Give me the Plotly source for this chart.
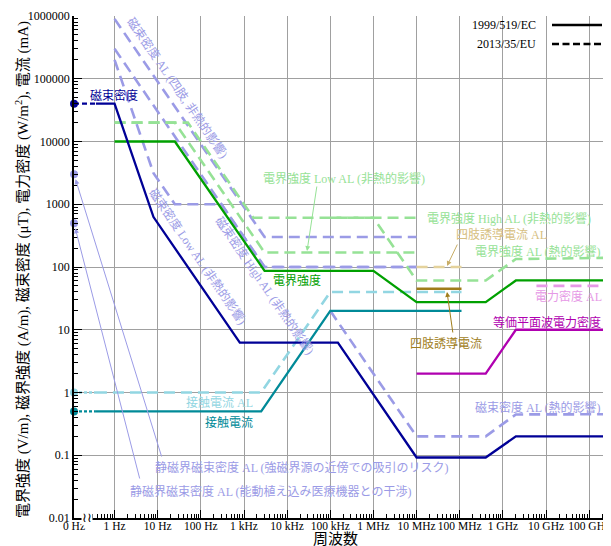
import plotly.graph_objects as go

# ---------------- data (frequency in Hz) ----------------
F0 = 10 ** -0.94          # axis position used for "0 Hz" (static field)

# 1999/519/EC (solid)
b99_static_f = [F0, 0.37]
b99_static = [40000, 40000]
b99_f = [0.37, 1, 8, 800, 150e3, 10e6, 400e6, 2e9, 3e11]
b99 = [40000, 40000, 625, 6.25, 6.25, 0.092, 0.092, 0.2, 0.2]
e99_f = [1, 25, 3000, 1e6, 10e6, 400e6, 2e9, 3e11]
e99 = [10000, 10000, 87, 87, 27.5, 27.5, 61, 61]
s99_f = [10e6, 400e6, 2e9, 3e11]
s99 = [2, 2, 10, 10]
ic99_static_f = [F0, 0.37]
ic99_static = [0.5, 0.5]
ic99_f = [0.37, 2500, 100e3, 110e6]
ic99 = [0.5, 0.5, 20, 20]
il99_f = [10e6, 110e6]
il99 = [45, 45]

# 2013/35/EU (dashed)
b_low_f = [1, 8, 25, 300, 3000, 10e6]
b_low = [2e5, 3125, 1000, 1000, 100, 100]
b_high_f = [1, 3000, 10e6]
b_high = [3e5, 100, 100]
b_limb_f = [1, 3000, 10e6]
b_limb = [9e5, 300, 300]
b_th_f = [100e3, 10e6, 400e6, 2e9, 3e11]
b_th = [20, 0.2, 0.2, 0.447, 0.45]
e_low_f = [1, 25, 3000, 10e6]
e_low = [2e4, 2e4, 170, 170]
e_high_f = [1, 50, 1640, 10e6]
e_high = [2e4, 2e4, 610, 610]
e_th_f = [100e3, 1e6, 10e6, 400e6, 2e9, 3e11]
e_th = [610, 610, 61, 61, 134, 140]
s_al_f = [6e9, 3e11]
s_al = [50, 50]
ic_al_static_f = [F0, 0.37]
ic_al_static = [1, 1]
ic_al_f = [0.37, 2500, 100e3, 110e6]
ic_al = [1, 1, 40, 40]
il_al_f = [10e6, 110e6]
il_al = [100, 100]
static_al = [3000, 500]

x_tickvals = [F0, 1, 10, 100, 1e3, 1e4, 1e5, 1e6, 1e7, 1e8, 1e9, 1e10, 1e11]
x_ticktext = ["0 Hz", "1 Hz", "10 Hz", "100 Hz", "1 kHz", "10 kHz", "100 kHz",
              "1 MHz", "10 MHz", "100 MHz", "1 GHz", "10 GHz", "100 GHz"]
y_tickvals = [0.01, 0.1, 1, 10, 100, 1000, 10000, 100000, 1000000]
y_ticktext = ["0.01", "0.1", "1", "10", "100", "1000", "10000", "100000", "1000000"]

# ---------------- colours ----------------
NAVY = "#000096"
LAV = "#9b9be6"
GREEN = "#00a000"
LGREEN = "#96e296"
TEAL = "#008a98"
LBLUE = "#92d6e2"
GOLD = "#a07d1a"
LGOLD = "#e4d29c"
MAG = "#b000b0"
LMAG = "#e699e6"

DASH = "11px,6px"
FONT = "Liberation Serif, Noto Sans CJK JP, serif"

fig = go.Figure()


def line(fx, fy, color, dash="solid", width=2.3):
    fig.add_trace(go.Scatter(x=fx, y=fy, mode="lines",
                             line=dict(color=color, width=width, dash=dash),
                             showlegend=False, hoverinfo="skip"))


# 2013 action levels (dashed, light colours)
line(b_limb_f, b_limb, LAV, DASH, 2.6)
line(b_high_f, b_high, LAV, DASH, 2.6)
line(b_low_f, b_low, LAV, DASH, 2.6)
line(b_th_f, b_th, LAV, DASH, 2.6)
line(e_high_f, e_high, LGREEN, DASH, 2.6)
line(e_low_f, e_low, LGREEN, DASH, 2.6)
line(e_th_f, e_th, LGREEN, DASH, 2.6)
line(s_al_f, s_al, LMAG, DASH, 2.6)
line(ic_al_static_f, ic_al_static, LBLUE, "3px,2px", 2.6)
line(ic_al_f, ic_al, LBLUE, DASH, 2.6)
line(il_al_f, il_al, LGOLD, DASH, 2.6)

# 1999 reference levels (solid)
line(e99_f, e99, GREEN)
line(b99_static_f, b99_static, NAVY, "5px,3px")
line(b99_f, b99, NAVY)
line(s99_f, s99, MAG)
line(ic99_static_f, ic99_static, TEAL, "3px,2px")
line(ic99_f, ic99, TEAL)
line(il99_f, il99, GOLD)

# static-field dots at 0 Hz
for val, col in [(b99_static[0], NAVY), (static_al[0], LAV), (static_al[1], LAV),
                 (ic_al_static[0], LBLUE), (ic99_static[0], TEAL)]:
    fig.add_trace(go.Scatter(x=[F0], y=[val], mode="markers",
                             marker=dict(color=col, size=8), cliponaxis=False,
                             showlegend=False, hoverinfo="skip"))

# ---------------- annotations (positions given in screen pixels) ----------------
def lx(px):
    return (px - 114.5) / 43.15


def ly(py):
    return 6 - (py - 16) / 62.75


def px_paper(px):
    return (px - 74) / 537


def py_paper(py):
    return (518 - py) / 502


def label(text, px, py, color, angle=0, xanchor="center", size=12):
    fig.add_annotation(x=lx(px), y=ly(py), xref="x", yref="y", text=text,
                       showarrow=False, textangle=angle, xanchor=xanchor,
                       yanchor="middle", font=dict(family=FONT, size=size, color=color))


def arrow(hx, hy, tx, ty, color, standoff=0):
    fig.add_annotation(x=lx(hx), y=ly(hy), ax=lx(tx), ay=ly(ty), xref="x", yref="y",
                       axref="x", ayref="y", text="", showarrow=True, arrowhead=2,
                       arrowsize=1, arrowwidth=1, arrowcolor=color, standoff=standoff)


label("磁束密度", 88, 96, NAVY, xanchor="left")
label("磁束密度 AL (四肢, 非熱的影響)", 177.5, 87.5, LAV, angle=55.5)
label("磁束密度 Low AL (非熱的影響)", 198, 256.5, LAV, angle=55.5)
label("磁束密度 High AL (非熱的影響)", 265, 285.5, LAV, angle=55.5)
label("電界強度 Low AL (非熱的影響)", 343.5, 178, LGREEN)
label("電界強度", 296.5, 281, GREEN)
label("電界強度 High AL (非熱的影響)", 509, 218, LGREEN)
label("四肢誘導電流 AL", 501, 234, "#d6be80")
label("電界強度 AL (熱的影響)", 537.5, 251, LGREEN)
label("電力密度 AL", 568.5, 297, LMAG)
label("等価平面波電力密度", 547, 323, MAG)
label("四肢誘導電流", 446, 343, GOLD)
label("接触電流 AL", 219, 402, LBLUE)
label("接触電流", 228.5, 422, TEAL)
label("磁束密度 AL (熱的影響)", 537.5, 407, LAV)
label("静磁界磁束密度 AL (強磁界源の近傍での吸引のリスク)", 153, 468, LAV, xanchor="left")
label("静磁界磁束密度 AL (能動植え込み医療機器との干渉)", 128, 491, LAV, xanchor="left")

arrow(307, 251, 317, 185, LGREEN)
arrow(447, 266, 458, 243, "#c8ad66")
arrow(447, 292, 453, 334, GOLD)
arrow(74, 174.5, 162, 458, LAV, standoff=5)
arrow(74, 223.5, 140, 480, LAV, standoff=5)

# axis break marker
fig.add_annotation(x=px_paper(87), y=py_paper(517), xref="paper", yref="paper",
                   text="≀≀", showarrow=False, bgcolor="white", borderpad=0,
                   yanchor="middle", xanchor="center",
                   font=dict(family="DejaVu Serif", size=13, color="black"))

# axis titles
fig.add_annotation(x=px_paper(335), y=py_paper(539), xref="paper", yref="paper",
                   text="周波数", showarrow=False, yanchor="middle",
                   font=dict(family=FONT, size=15, color="black"))
fig.add_annotation(x=px_paper(22), y=py_paper(270), xref="paper", yref="paper",
                   text="電界強度 (V/m), 磁界強度 (A/m), 磁束密度 (μT), 電力密度 (W/m<sup>2</sup>), 電流 (mA)",
                   showarrow=False, textangle=-90, xanchor="center", yanchor="middle",
                   font=dict(family=FONT, size=15, color="black"))

# legend (drawn manually: text left of the line sample)
for i, (name, dsh) in enumerate([("1999/519/EC", "solid"), ("2013/35/EU", "7px,3.5px")]):
    yp = py_paper(25 + 19 * i)
    fig.add_shape(type="line", xref="paper", yref="paper",
                  x0=px_paper(552), x1=px_paper(602), y0=yp, y1=yp,
                  line=dict(color="black", width=2.6, dash=dsh))
    fig.add_annotation(x=px_paper(538), y=yp, xref="paper", yref="paper", text=name,
                       showarrow=False, xanchor="right", yanchor="middle",
                       font=dict(family=FONT, size=12, color="black"))

axis_common = dict(type="log", showgrid=True, gridcolor="#a0a0a0", gridwidth=1.3,
                   showline=True, linecolor="black", linewidth=1.5, ticks="inside",
                   ticklen=8, tickcolor="black", tickwidth=1, zeroline=False,
                   automargin=False, tickangle=0,
                   minor=dict(ticks="inside", ticklen=4, tickcolor="black", tickwidth=1,
                              showgrid=False, dtick="D1"))

fig.update_xaxes(range=[-0.94, 11.506], tickmode="array", tickvals=x_tickvals,
                 ticktext=x_ticktext, ticklabelstandoff=-4,
                 tickfont=dict(family=FONT, size=11.5, color="black"), **axis_common)
fig.update_yaxes(range=[-2, 6], tickmode="array", tickvals=y_tickvals,
                 ticktext=y_ticktext,
                 tickfont=dict(family=FONT, size=12, color="black"), **axis_common)

# the page adds an 8 px body margin, so the figure is shifted by 8 px
fig.update_layout(width=611, height=538, margin=dict(l=66, r=8, t=8, b=28),
                  plot_bgcolor="white", paper_bgcolor="white", showlegend=False)

fig.write_html("out.html")
